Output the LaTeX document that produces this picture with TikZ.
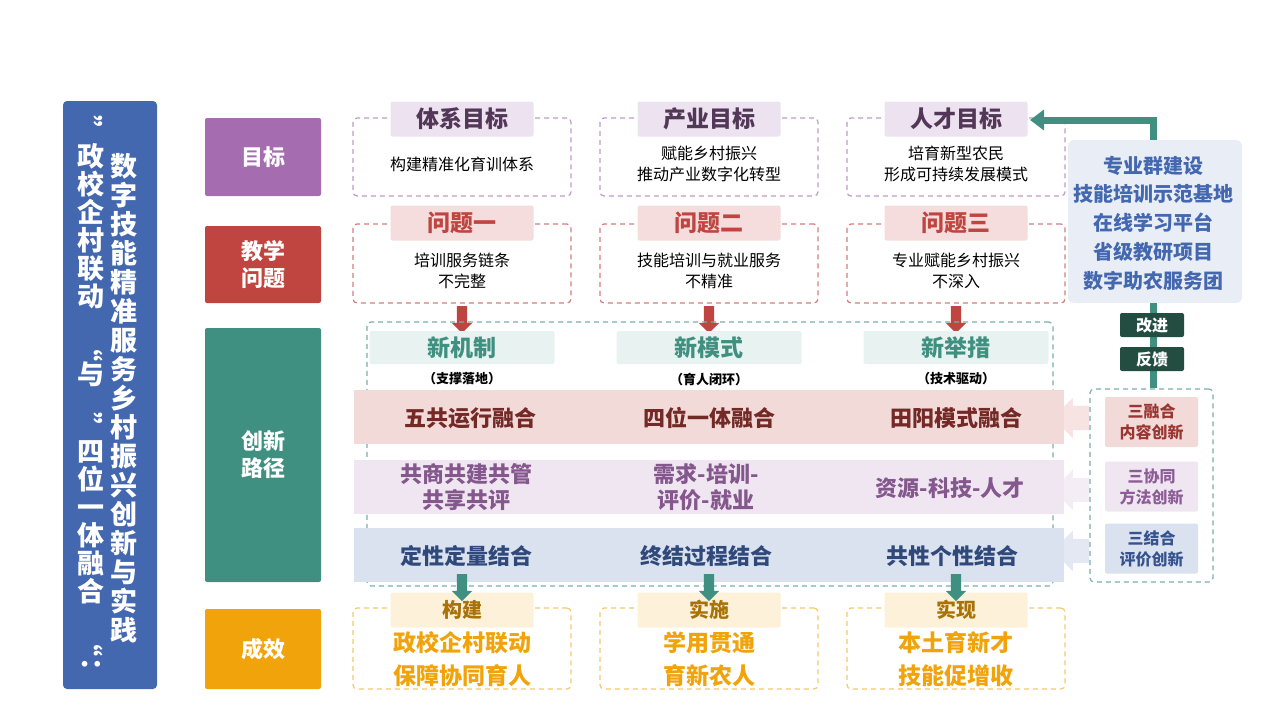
\documentclass[tikz,border=0pt]{standalone}
\usepackage{fontspec}
\newfontfamily\cjk{Noto Sans CJK SC}
\usetikzlibrary{arrows.meta,shapes.arrows}
\definecolor{tblue}{HTML}{4468B0}
\definecolor{gpur}{HTML}{A56DB0}
\definecolor{gred}{HTML}{C0443F}
\definecolor{gteal}{HTML}{3F9080}
\definecolor{gorg}{HTML}{F0A30A}
\definecolor{dgreen}{HTML}{234D40}
\tikzset{
 lab/.style={fill=#1,minimum width=116pt,minimum height=78pt,rounded corners=2pt,text=white,font=\cjk\bfseries\fontsize{22}{27}\selectfont,align=center},
 dbox/.style={draw=#1,dashed,line width=1.2pt,dash pattern=on 5pt off 4pt,rounded corners=4pt,minimum width=218pt},
 tab/.style={fill=#1,rounded corners=2pt,minimum height=35pt,font=\cjk\bfseries\fontsize{23}{26}\selectfont},
 body/.style={font=\cjk\fontsize{16}{21}\selectfont,align=center},
 band/.style={fill=#1,minimum width=710pt,minimum height=54pt},
 bt/.style={font=\cjk\bfseries\fontsize{22}{26}\selectfont,align=center,text=#1},
 dn/.style={single arrow,draw=none,fill=#1,shape border rotate=270,single arrow head extend=5pt,minimum height=27pt,inner sep=5pt},
 lft/.style={single arrow,draw=none,fill=#1,shape border rotate=180,single arrow head extend=8pt,minimum height=30pt,inner sep=12pt},
 sm/.style={fill=#1,minimum width=93pt,minimum height=50pt,rounded corners=2pt,font=\cjk\bfseries\fontsize{16}{21}\selectfont,align=center},
}
\begin{document}
\begin{tikzpicture}[x=1pt,y=-1pt]
\useasboundingbox (0,0) rectangle (1280,720);
% title
\node[fill=tblue,rounded corners=4pt,minimum width=94pt,minimum height=588pt] (title) at (110,395) {};
\node[text=white,font=\cjk\bfseries\fontsize{27}{29}\selectfont,align=center] (t1) at (124,398) {数\\字\\技\\能\\精\\准\\服\\务\\乡\\村\\振\\兴\\创\\新\\与\\实\\践};
\node[text=white,font=\cjk\bfseries\fontsize{27}{28}\selectfont,align=center] (t2) at (91,400) {\rotatebox{-90}{”}\\政\\校\\企\\村\\联\\动\\\rotatebox{-90}{“}\\与\\\rotatebox{-90}{”}\\四\\位\\一\\体\\融\\合\\\rotatebox{-90}{“}\\\rotatebox{-90}{：}};
% left labels
\node[lab=gpur] (l1) at (263,157) {目标};
\node[lab=gred,minimum height=77pt] (l2) at (263,264.5) {教学\\问题};
\node[lab=gteal,minimum height=254pt] (l3) at (263,455) {创新\\路径};
\node[lab=gorg,minimum height=80pt] (l4) at (263,649) {成效};
% row 1
\foreach \x/\t/\b [count=\i] in {462/体系目标/构建精准化育训体系, 709/产业目标/赋能乡村振兴\\推动产业数字化转型, 956/人才目标/培育新型农民\\形成可持续发展模式}{
 \node[dbox=gpur!70,minimum height=78pt] (g\i) at (\x,157) {};
 \node[tab=gpur!20,minimum width=143pt,text=gpur!50!black] (gt\i) at (\x,119) {\t};
 \node[body] (gb\i) at (\x,164) {\b};
}
% row 2
\foreach \x/\t/\b [count=\i] in {462/问题一/培训服务链条\\不完整, 709/问题二/技能培训与就业服务\\不精准, 956/问题三/专业赋能乡村振兴\\不深入}{
 \node[dbox=gred!70,minimum height=79pt] (p\i) at (\x,263.5) {};
 \node[tab=gred!18,minimum width=143pt,text=gred] (pt\i) at (\x,223) {\t};
 \node[body] (pb\i) at (\x,271) {\b};
 \node[dn=gred] (pa\i) at (\x,317) {};
}
% innovation
\node[dbox=gteal!70,minimum width=686pt,minimum height=264pt] (big) at (710,454) {};
\foreach \x/\t/\s [count=\i] in {462/新机制/（支撑落地）, 709/新模式/（育人闭环）, 956/新举措/（技术驱动）}{
 \node[tab=gteal!12,minimum width=185pt,minimum height=33pt,text=gteal] (nt\i) at (\x,347.5) {\t};
 \node[font=\cjk\bfseries\fontsize{13}{15}\selectfont] (ns\i) at (\x,379) {\s};
}
\node[lft=gred!15] (la1) at (1077,418) {};
\node[lft=gpur!12] (la2) at (1077,490) {};
\node[lft=tblue!15] (la3) at (1077,551) {};
\node[band=gred!20] (b1) at (709,417) {};
\node[band=gpur!17] (b2) at (709,487) {};
\node[band=tblue!20] (b3) at (709,555) {};
\node[bt=gred!60!black] (b11) at (470,418) {五共运行融合};
\node[bt=gred!60!black] (b12) at (709,418) {四位一体融合};
\node[bt=gred!60!black] (b13) at (956,418) {田阳模式融合};
\node[bt=gpur!80!black] (b21) at (466,487) {共商共建共管\\共享共评};
\node[bt=gpur!80!black] (b22) at (706,487) {需求-培训-\\评价-就业};
\node[bt=gpur!80!black] (b23) at (950,488) {资源-科技-人才};
\node[bt=tblue!70!black] (b31) at (466,556) {定性定量结合};
\node[bt=tblue!70!black] (b32) at (706,556) {终结过程结合};
\node[bt=tblue!70!black] (b33) at (952,556) {共性个性结合};
% results
\foreach \x/\t/\b [count=\i] in {462/构建/政校企村联动\\保障协同育人, 709/实施/学用贯通\\育新农人, 956/实现/本土育新才\\技能促增收}{
 \node[dbox=gorg!60,minimum height=81pt] (r\i) at (\x,648.5) {};
 \node[tab=gorg!15,minimum width=143pt,text=gorg!70!black,font=\cjk\bfseries\fontsize{20}{24}\selectfont] (rt\i) at (\x,610) {\t};
 \node[dn=gteal] (ra\i) at (\x,585) {};
 \node[bt=gorg,font=\cjk\bfseries\fontsize{23}{33}\selectfont] (rb\i) at (\x,659) {\b};
}
% right panel
\node[fill=tblue!12,rounded corners=6pt,minimum width=174pt,minimum height=163pt] (rp) at (1155,221.5) {};
\node[text=tblue,font=\cjk\bfseries\fontsize{20}{28.7}\selectfont,align=center] (rpt) at (1153,223) {专业群建设\\技能培训示范基地\\在线学习平台\\省级教研项目\\数字助农服务团};
\node[dbox=gteal!70,minimum width=123pt,minimum height=193pt] (rd) at (1151.5,485.5) {};
\coordinate (c1) at (1153,120);
\coordinate (c2) at (1030,120);
\draw[gteal,line width=7pt] (rp.south-|c1) -- (rd.north-|c1);
\draw[gteal,line width=7pt,-{Triangle[length=14pt,width=20pt]}] (rp.north-|c1) -- (c1) -- (c2);
\node[fill=dgreen,rounded corners=2pt,minimum width=64pt,minimum height=24pt,text=white,font=\cjk\bfseries\fontsize{16}{18}\selectfont] (gj) at (1152,325) {改进};
\node[fill=dgreen,rounded corners=2pt,minimum width=64pt,minimum height=24pt,text=white,font=\cjk\bfseries\fontsize{16}{18}\selectfont] (fk) at (1152,359) {反馈};
\node[sm=gred!20,text=gred!80!black] (s1) at (1151.5,422) {三融合\\内容创新};
\node[sm=gpur!17,text=gpur!85!black] (s2) at (1151.5,486.5) {三协同\\方法创新};
\node[sm=tblue!20,text=tblue!80!black] (s3) at (1151.5,548.5) {三结合\\评价创新};
\end{tikzpicture}
\end{document}
